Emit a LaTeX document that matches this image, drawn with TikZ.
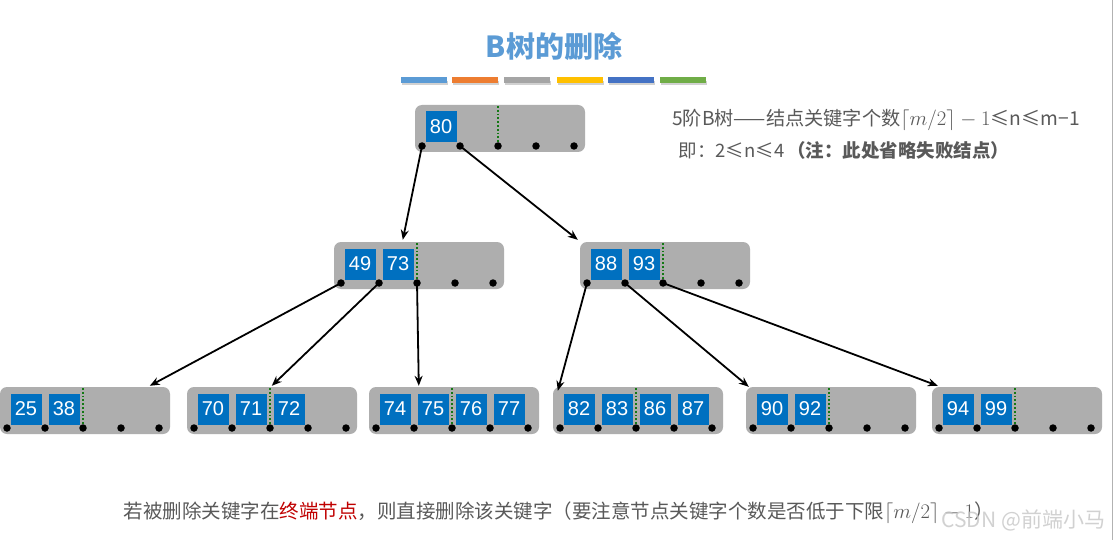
\documentclass[tikz,border=0pt]{standalone}
\usepackage{fontspec}
\setmainfont{Noto Sans CJK SC}
\newfontfamily\keyfont{Liberation Sans}
\usetikzlibrary{arrows.meta,calc}
\definecolor{keyblue}{RGB}{0,112,192}
\definecolor{boxgray}{RGB}{174,174,174}
\definecolor{titleblue}{RGB}{91,155,213}
\definecolor{txtgray}{RGB}{89,89,89}
\definecolor{sepgreen}{RGB}{20,120,20}
\definecolor{redtxt}{RGB}{192,0,0}
\definecolor{b1}{RGB}{91,155,213}
\definecolor{b2}{RGB}{237,125,49}
\definecolor{b3}{RGB}{165,165,165}
\definecolor{b4}{RGB}{255,192,0}
\definecolor{b5}{RGB}{68,114,196}
\definecolor{b6}{RGB}{112,173,71}
\tikzset{
  btbox/.style={fill=boxgray, rounded corners=7pt, minimum width=170pt, minimum height=47pt, inner sep=0pt, draw=none},
  keybox/.style={fill=keyblue, text=white, minimum width=31pt, minimum height=31pt, inner sep=0pt, font=\keyfont\fontsize{20}{20}\selectfont},
  ptr/.style={circle, fill=black, minimum size=7.5pt, inner sep=0pt},
  sepline/.style={sepgreen, dotted, line width=1.8pt},
  edge/.style={line width=1.8pt, -{Stealth[length=10pt,width=8pt]}},
  bar/.style={minimum width=46pt, minimum height=6pt, inner sep=0pt},
}
\newcommand\btnode[4]{%
  \node[btbox] (#1) at ({#2+85},{#3+23.5}) {};
  \foreach \k [count=\i] in {#4} {
    \node[keybox] (#1-k\i) at ({#2+26+38*(\i-1)},{#3+22}) {\k};
  }
  \foreach \j in {1,...,5} {
    \coordinate (#1-p\j) at ({#2+7+38*(\j-1)},{#3+41});
  }
  \draw[sepline] ({#2+83},{#3+1}) -- (#1-p3);
}
\newcommand\ptrdots[1]{%
  \foreach \j in {1,...,5} { \node[ptr] at (#1-p\j) {}; }
}
\begin{document}
\begin{tikzpicture}[x=1pt,y=-1pt]
\useasboundingbox (0,0) rectangle (1113,540);
\fill[white] (0,0) rectangle (1113,540);
\draw[gray!60, line width=1pt] (1112,0) -- (1112,540);

% title
\node[font=\bfseries\fontsize{29}{29}\selectfont, text=titleblue] (title) at (554,46) {B树的删除};
\foreach \c/\x [count=\n] in {b1/424, b2/474.5, b3/526.5, b4/579.5, b5/630.5, b6/683} {
  \fill[black, opacity=0.18] ({\x-23+1},81) rectangle ({\x+23+1},85);
  \node[bar, fill=\c] (bar\n) at (\x,80) {};
}

% info text
\node[text=txtgray, font=\fontsize{19.2}{19.2}\selectfont] (info1) at (876,120) {5阶B树——结点关键字个数$\lceil m/2\rceil - 1$≤n≤m−1};
\node[anchor=east, text=txtgray, font=\fontsize{18.5}{18.5}\selectfont] (info2) at (1013,150) {即：2≤n≤4\,\textbf{（注：此处省略失败结点）}};

% nodes
\btnode{r}{415}{105}{80}
\btnode{a}{334}{242}{49,73}
\btnode{b}{580}{242}{88,93}
\btnode{l1}{0}{387}{25,38}
\btnode{l2}{187}{387}{70,71,72}
\btnode{l3}{369}{387}{74,75,76,77}
\btnode{l4}{553}{387}{82,83,86,87}
\btnode{l5}{746}{387}{90,92}
\btnode{l6}{932}{387}{94,99}

% edges
\draw[edge] (r-p1) -- ($(a.north west)+(69,-2)$);
\draw[edge] (r-p2) -- ($(b.north west)+(-2,-2)$);
\draw[edge] (a-p1) -- ($(l1.north west)+(150,-1)$);
\draw[edge] (a-p2) -- ($(l2.north west)+(85,-1)$);
\draw[edge] (a-p3) -- ($(l3.north west)+(50,-1)$);
\draw[edge] (b-p1) -- ($(l4.north west)+(5,4)$);
\draw[edge] (b-p2) -- ($(l5.north west)+(3,0)$);
\draw[edge] (b-p3) -- ($(l6.north west)+(6,-1)$);

\ptrdots{r}\ptrdots{a}\ptrdots{b}\ptrdots{l1}\ptrdots{l2}\ptrdots{l3}\ptrdots{l4}\ptrdots{l5}\ptrdots{l6}

% bottom text
\node[anchor=west, text=txtgray, font=\fontsize{19.5}{19.5}\selectfont] (bottom) at (120,513) {若被删除关键字在\textcolor{redtxt}{终端节点}，则直接删除该关键字（要注意节点关键字个数是否低于下限$\lceil m/2\rceil - 1$）};
\node[anchor=west, text=gray!45, opacity=0.8, font=\fontsize{21}{21}\selectfont] (wm) at (938,520) {CSDN @前端小马};
\end{tikzpicture}
\end{document}
